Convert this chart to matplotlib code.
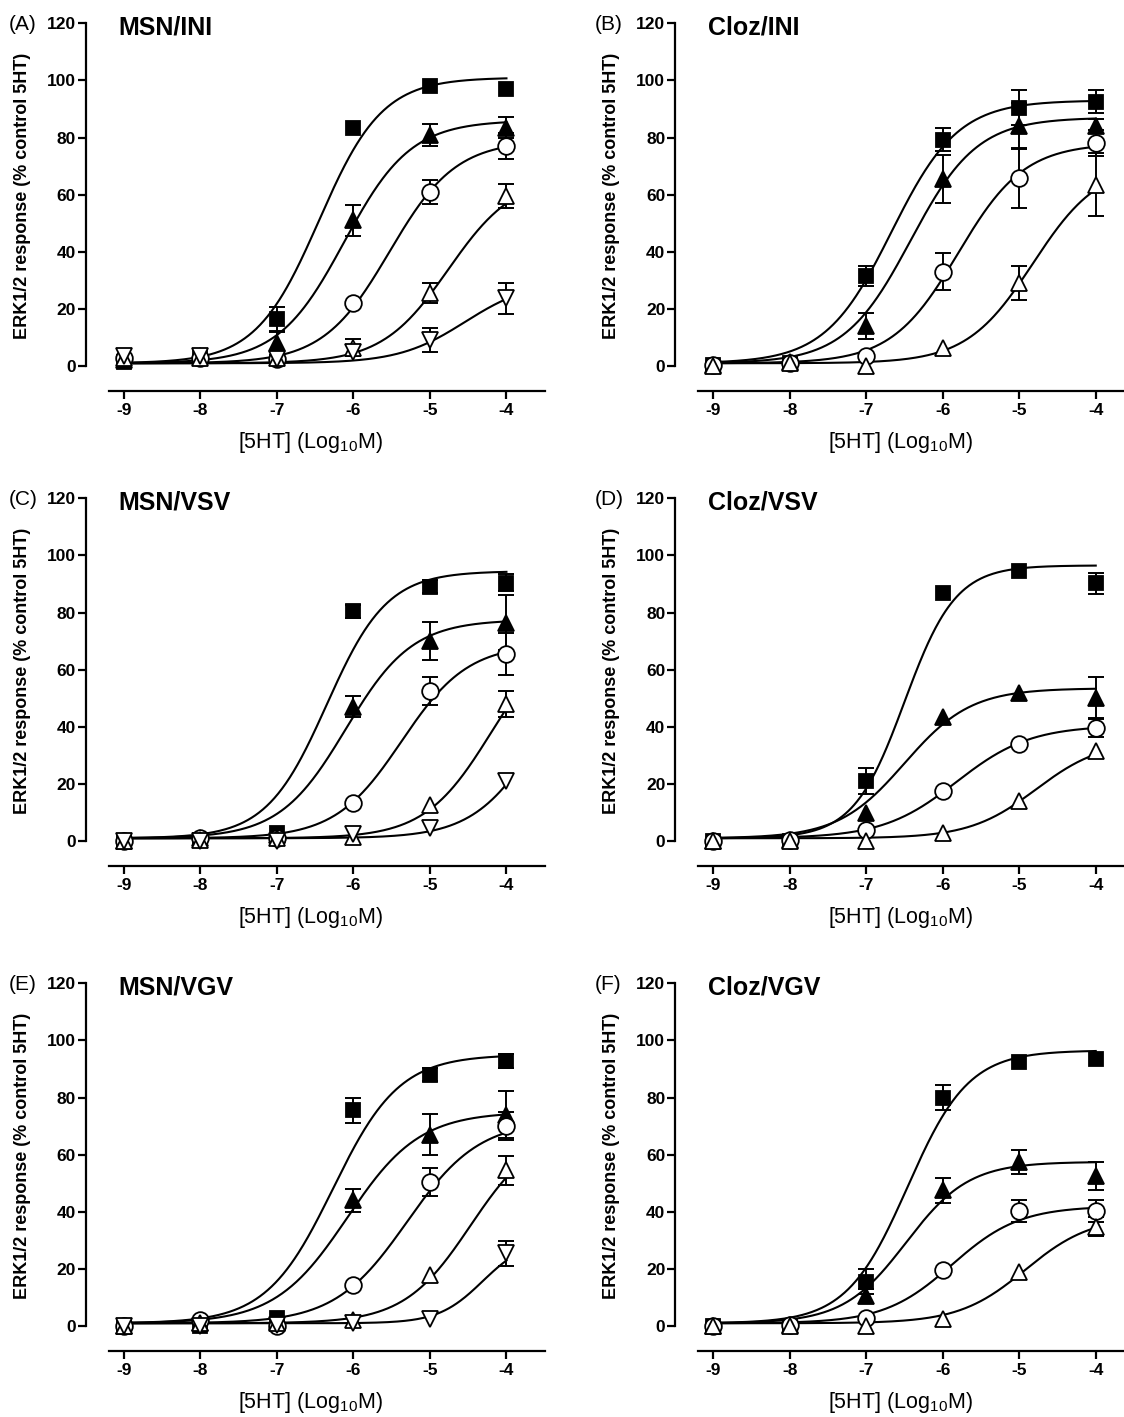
import numpy as np
import matplotlib
matplotlib.use("Agg")
import matplotlib.pyplot as plt

plt.rcParams['font.family'] = ['Liberation Sans', 'DejaVu Sans']
plt.rcParams['mathtext.fontset'] = 'custom'
plt.rcParams['mathtext.rm'] = 'Liberation Sans'
plt.rcParams['mathtext.bf'] = 'Liberation Sans:bold'

# ---------------- data ----------------
LOG_5HT = [-9, -8, -7, -6, -5, -4]
X_TICKS = [-9, -8, -7, -6, -5, -4]
Y_TICKS = [0, 20, 40, 60, 80, 100, 120]
PANEL_LETTERS = ['(A)', '(B)', '(C)', '(D)', '(E)', '(F)']
PANEL_TITLES = ['MSN/INI', 'Cloz/INI', 'MSN/VSV', 'Cloz/VSV', 'MSN/VGV', 'Cloz/VGV']
X_LABEL = '[5HT] (Log$_\\mathregular{10}$M)'
Y_LABEL = 'ERK1/2 response (% control 5HT)'
FIT_BOTTOM = 1.0

# series order: filled square, filled triangle, open circle, open triangle, open inverted triangle
A_MEAN = [[1.5, 3.5, 16.5, 83.5, 98.0, 97.0],
          [2.0, 3.5, 8.0, 51.0, 81.0, 83.5],
          [3.0, 3.0, 2.5, 22.0, 61.0, 77.0],
          [3.0, 3.0, 3.0, 6.5, 25.5, 59.5],
          [3.5, 3.5, 2.5, 5.0, 9.0, 23.7]]
A_SEM = [[0, 0, 4.2, 0, 0, 0],
         [0, 0, 4.0, 5.3, 3.8, 3.8],
         [0, 0, 0, 0, 4.2, 4.6],
         [0, 0, 0, 3.0, 3.5, 4.3],
         [0, 0, 0, 0, 4.2, 5.5]]
A_TOP = [101.0, 86.0, 79.0, 66.7, 30.0]
A_LOGEC50 = [-6.45, -6.12, -5.53, -4.76, -4.54]
A_HILL = [1.05, 1.0, 1.0, 1.0, 1.0]

B_MEAN = [[0.5, 1.0, 31.5, 79.3, 90.5, 92.5],
          [0.5, 1.5, 14.0, 65.5, 84.0, 84.0],
          [0.5, 1.0, 3.5, 33.0, 66.0, 78.0],
          [0.0, 1.0, 0.0, 6.5, 29.0, 63.5]]
B_SEM = [[0, 2.0, 3.6, 4.0, 6.0, 4.0],
         [0, 0, 4.5, 8.5, 8.0, 2.5],
         [0, 0, 0, 6.5, 10.5, 4.5],
         [0, 0, 0, 0, 6.0, 11.0]]
B_TOP = [93.0, 87.0, 78.0, 71.0]
B_LOGEC50 = [-6.67, -6.42, -5.80, -4.82]
B_HILL = [1.0, 1.0, 1.0, 1.0]

C_MEAN = [[0.0, 0.5, 3.0, 80.5, 89.0, 90.5],
          [0.0, 1.0, 2.0, 47.0, 70.0, 76.5],
          [0.0, 1.0, 1.0, 13.5, 52.5, 65.5],
          [0.0, 0.5, 1.0, 1.5, 12.5, 48.0],
          [0.0, 0.0, 0.0, 2.5, 4.5, 21.0]]
C_SEM = [[0, 0, 0, 2.3, 2.3, 3.0],
         [0, 0, 0, 3.7, 6.6, 9.5],
         [0, 0, 0, 0, 5.0, 7.2],
         [0, 0, 0, 0, 0, 4.4],
         [0, 0, 0, 0, 0, 0]]
C_TOP = [94.5, 77.5, 69.0, 75.0, 72.0]
C_LOGEC50 = [-6.35, -6.10, -5.37, -4.20, -3.56]
C_HILL = [1.1, 1.0, 1.0, 1.0, 1.0]

D_MEAN = [[0.0, 0.0, 21.0, 87.0, 94.5, 90.3],
          [0.0, 0.5, 10.0, 43.5, 52.0, 50.0],
          [0.0, 0.3, 4.0, 17.5, 34.0, 39.7],
          [0.0, 0.0, 0.0, 3.0, 14.0, 31.5]]
D_SEM = [[0, 0, 4.5, 0, 0, 3.7],
         [0, 0, 0, 0, 0, 7.3],
         [0, 0, 0, 0, 0, 3.4],
         [0, 0, 0, 0, 0, 0]]
D_TOP = [96.5, 53.5, 40.5, 35.3]
D_LOGEC50 = [-6.50, -6.50, -5.82, -4.78]
D_HILL = [1.3, 1.0, 0.9, 1.0]

E_MEAN = [[0.0, 0.2, 3.0, 75.5, 88.0, 92.8],
          [0.0, 1.0, 1.5, 44.0, 67.0, 74.0],
          [0.0, 2.2, 0.0, 14.5, 50.5, 70.0],
          [0.0, 1.0, 1.0, 2.0, 18.0, 54.5],
          [0.0, 0.0, 0.5, 1.0, 2.5, 25.5]]
E_SEM = [[0, 0, 0, 4.4, 2.3, 2.3],
         [0, 0, 0, 4.0, 7.2, 8.3],
         [0, 0, 0, 0, 5.0, 5.0],
         [0, 0, 0, 0, 0, 5.2],
         [0, 0, 0, 0, 0, 4.3]]
E_TOP = [95.0, 75.0, 72.0, 69.4, 30.5]
E_LOGEC50 = [-6.27, -6.08, -5.30, -4.47, -4.31]
E_HILL = [1.0, 0.92, 0.92, 1.0, 1.5]

F_MEAN = [[0.0, 0.0, 15.6, 80.0, 92.3, 93.6],
          [0.0, 0.5, 10.5, 47.5, 57.5, 52.5],
          [0.0, 0.5, 2.8, 19.7, 40.3, 40.3],
          [0.0, 0.0, 0.0, 2.6, 19.0, 34.8]]
F_SEM = [[0, 0, 4.5, 4.5, 0, 0],
         [0, 0, 2.5, 4.5, 4.2, 5.0],
         [0, 0, 0, 0, 4.0, 4.0],
         [0, 0, 0, 0, 0, 3.3]]
F_TOP = [96.5, 57.5, 42.0, 38.5]
F_LOGEC50 = [-6.46, -6.48, -5.88, -4.92]
F_HILL = [1.09, 1.06, 0.98, 1.0]

PANELS = [(A_MEAN, A_SEM, A_TOP, A_LOGEC50, A_HILL),
          (B_MEAN, B_SEM, B_TOP, B_LOGEC50, B_HILL),
          (C_MEAN, C_SEM, C_TOP, C_LOGEC50, C_HILL),
          (D_MEAN, D_SEM, D_TOP, D_LOGEC50, D_HILL),
          (E_MEAN, E_SEM, E_TOP, E_LOGEC50, E_HILL),
          (F_MEAN, F_SEM, F_TOP, F_LOGEC50, F_HILL)]

# ---------------- styles ----------------
STYLES = [dict(marker='s', mfc='black', ms=10),
          dict(marker='^', mfc='black', ms=11),
          dict(marker='o', mfc='white', ms=12),
          dict(marker='^', mfc='white', ms=11.5),
          dict(marker='v', mfc='white', ms=11.5)]

W, H = 1124, 1417
COL_LEFT = [85.7, 675.0]
ROW_TOP = [23.3, 498.3, 983.3]
AX_W, AX_H = 459.0, 367.4
LETTER_X = [9, 595]

fig = plt.figure(figsize=(W / 100, H / 100), dpi=100)

def logistic(x, top, ec, hill):
    return FIT_BOTTOM + (top - FIT_BOTTOM) / (1 + 10 ** ((ec - x) * hill))

xs = np.array(LOG_5HT, dtype=float)
xfine = np.linspace(LOG_5HT[0], LOG_5HT[-1], 400)

for i, (means, sems, tops, ecs, hills) in enumerate(PANELS):
    r, c = divmod(i, 2)
    left = COL_LEFT[c]
    top_px = ROW_TOP[r]
    ax = fig.add_axes([left / W, 1 - (top_px + AX_H) / H, AX_W / W, AX_H / H])
    ax.set_xlim(-9.5, -3.5)
    ax.set_ylim(-8.6, 120)
    for s in ['top', 'right']:
        ax.spines[s].set_visible(False)
    ax.spines['left'].set_bounds(0, 120)
    ax.spines['bottom'].set_bounds(-9.2, -3.5)
    for s in ['left', 'bottom']:
        ax.spines[s].set_linewidth(1.6)
    ax.set_xticks(X_TICKS)
    ax.set_xticklabels([str(t) for t in X_TICKS])
    ax.set_yticks(Y_TICKS)
    ax.set_yticklabels([str(t) for t in Y_TICKS])
    ax.tick_params(axis='both', width=1.6, length=5.5, labelsize=12.5)
    ax.tick_params(axis='y', pad=1.5)
    ax.tick_params(axis='x', pad=3.5)
    for lab in ax.get_xticklabels() + ax.get_yticklabels():
        lab.set_fontweight('bold')
    ax.patch.set_alpha(0)

    for j in range(len(means)):
        m = np.array(means[j], dtype=float)
        e = np.array(sems[j], dtype=float)
        ax.plot(xfine, logistic(xfine, tops[j], ecs[j], hills[j]),
                color='black', lw=1.5, zorder=2, clip_on=False)
        mask = e > 0
        if mask.any():
            ax.errorbar(xs[mask], m[mask], yerr=e[mask], fmt='none',
                        ecolor='black', elinewidth=1.4, capsize=5.5,
                        capthick=1.4, zorder=3, clip_on=False)
        st = STYLES[j]
        ax.plot(xs, m, linestyle='none', marker=st['marker'],
                markerfacecolor=st['mfc'], markeredgecolor='black',
                markersize=st['ms'], markeredgewidth=1.3, zorder=4,
                clip_on=False)

    ax.text(-9.07, 118.5, PANEL_TITLES[i], fontsize=18, fontweight='bold',
            ha='left', va='center')
    ax.text(-63 / AX_W, 0.53, Y_LABEL, rotation=90, fontsize=13,
            fontweight='bold', ha='center', va='center', transform=ax.transAxes)
    ax.text(0.49, -52 / AX_H, X_LABEL, fontsize=15.5, ha='center', va='center',
            transform=ax.transAxes)
    fig.text(LETTER_X[c] / W, 1 - (top_px + 1) / H, PANEL_LETTERS[i],
             fontsize=15, ha='left', va='center')

fig.savefig('out.png', dpi=100)
